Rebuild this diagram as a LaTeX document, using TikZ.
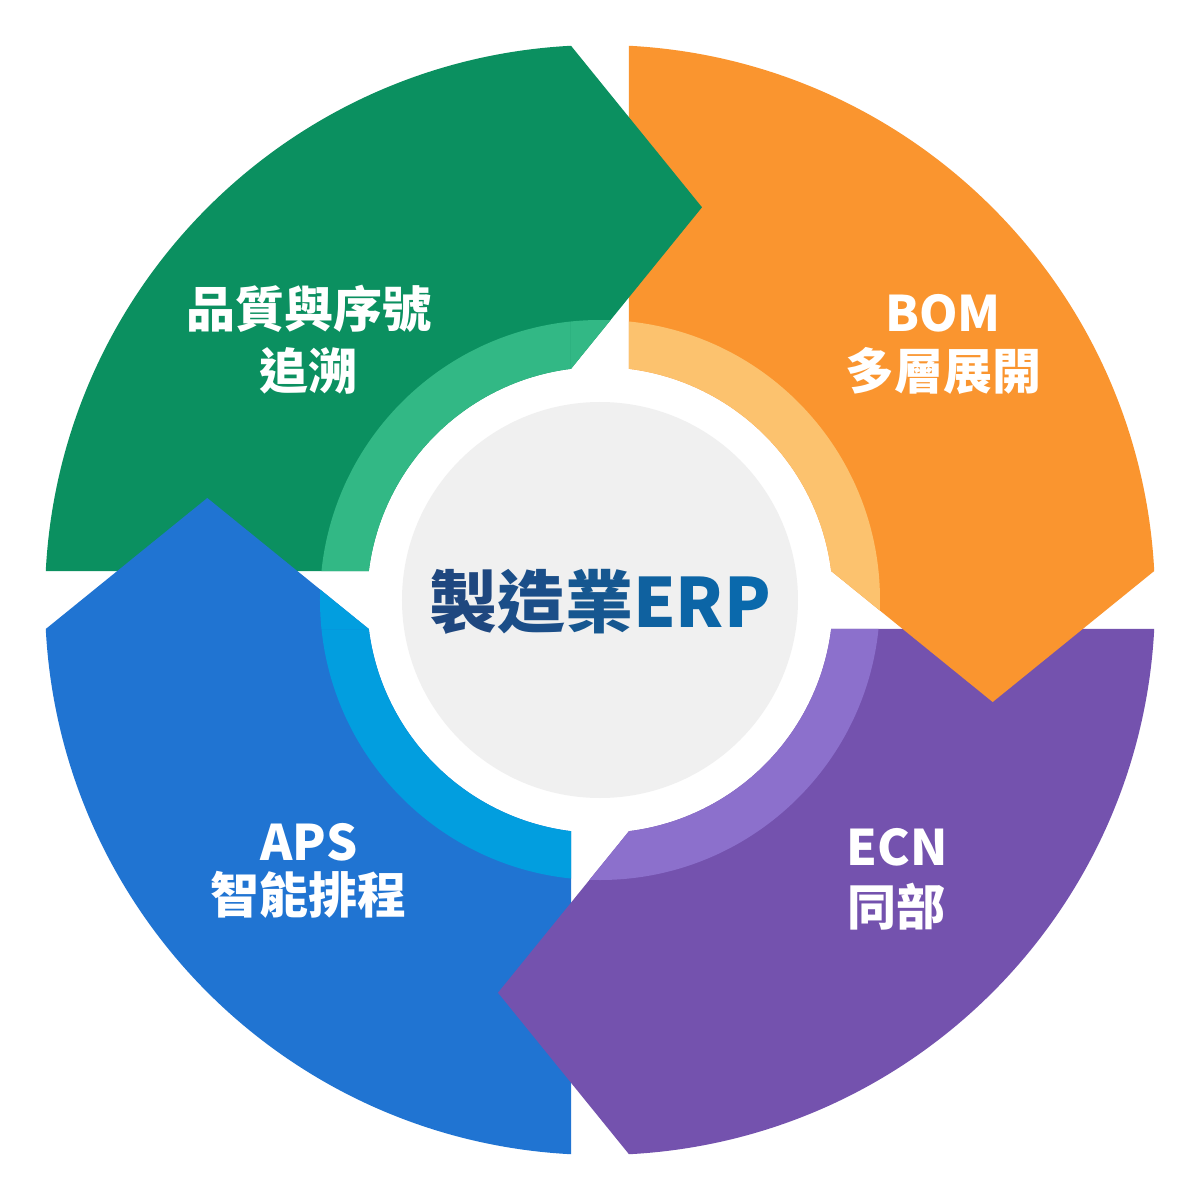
\documentclass[tikz,border=0pt]{standalone}
\usepackage{fontspec}
\newfontfamily\cjk{Noto Sans CJK TC}
\definecolor{gdk}{HTML}{0B9060}
\definecolor{glt}{HTML}{32B885}
\definecolor{odk}{HTML}{FA952F}
\definecolor{olt}{HTML}{FCC26E}
\definecolor{pdk}{HTML}{7452AE}
\definecolor{plt}{HTML}{8C70CC}
\definecolor{bdk}{HTML}{2074D2}
\definecolor{blt}{HTML}{029EDF}
\definecolor{cgray}{HTML}{F0F0F0}
\definecolor{ct1}{HTML}{1F477F}
\definecolor{ct2}{HTML}{1B4E88}
\definecolor{ct3}{HTML}{165790}
\definecolor{ct4}{HTML}{0F619F}
\definecolor{ct5}{HTML}{0C65A6}
\definecolor{ct6}{HTML}{0A69AC}
\begin{document}
\begin{tikzpicture}[x=0.5pt,y=0.5pt,
  sector/.style={insert path={(92.9955:555) arc[start angle=92.9955, end angle=177.0045, radius=555] -- (172.85:233) arc[start angle=172.85, end angle=97.15, radius=233] -- cycle}},
  arrowhead/.style={insert path={(-29,554.24) -- (102,392.7) -- (-29,231.19) -- cycle}},
  lbl/.style={anchor=base, text=white, font=\cjk\bfseries\fontsize{24.5}{24.5}\selectfont, inner sep=0pt}]
\useasboundingbox (-600,-600) rectangle (600,600);
\fill[white] (-600,-600) rectangle (600,600);
% sectors
\foreach \rot/\dk/\lt in {0/gdk/glt, -90/odk/olt, -180/pdk/plt, -270/bdk/blt} {
  \begin{scope}[rotate=\rot]
    \fill[\dk, sector];
    \begin{scope}
      \path[clip, sector];
      \fill[\lt] (0,0) circle (280);
    \end{scope}
  \end{scope}
}
% arrowheads on top
\foreach \rot/\dk/\lt in {0/gdk/glt, -90/odk/olt, -180/pdk/plt, -270/bdk/blt} {
  \begin{scope}[rotate=\rot]
    \fill[\dk, arrowhead];
    \begin{scope}
      \path[clip, arrowhead];
      \fill[\lt] (0,0) circle (280);
    \end{scope}
  \end{scope}
}
% centre
\fill[cgray] (0,0) circle (198);
\node[anchor=base, inner sep=0pt, font=\cjk\bfseries\fontsize{34}{34}\selectfont] (ctr) at (0,-27)
  {\textcolor{ct1}{製}\textcolor{ct2}{造}\textcolor{ct3}{業}\textcolor{ct4}{E}\textcolor{ct5}{R}\textcolor{ct6}{P}};
% labels
\node[lbl] (g1) at (-291,272) {品質與序號};
\node[lbl] (g2) at (-291,210) {追溯};
\node[lbl] (o1) at (343,268) {BOM};
\node[lbl] (o2) at (343,210) {多層展開};
\node[lbl] (p1) at (297,-265) {ECN};
\node[lbl] (p2) at (297,-325) {同部};
\node[lbl] (b1) at (-291,-260) {APS};
\node[lbl] (b2) at (-291,-313) {智能排程};
\end{tikzpicture}
\end{document}
